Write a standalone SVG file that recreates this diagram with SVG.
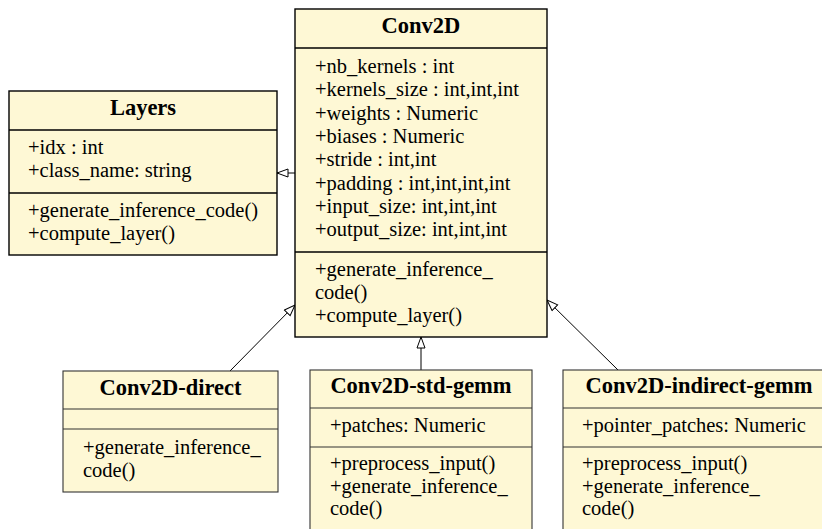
<svg xmlns="http://www.w3.org/2000/svg" width="822" height="529" viewBox="0 0 822 529">
<defs>
<marker id="inh" markerUnits="userSpaceOnUse" markerWidth="14" markerHeight="12" refX="12" refY="5" orient="auto">
<path d="M1,1 L12,5 L1,9 Z" fill="#fff" stroke="#000" stroke-width="1"/>
</marker>
<style>
.box{fill:#FEF8D5;stroke:#000;stroke-width:1.4}
.box2{fill:#FEF8D5;stroke:#333;stroke-width:1.1}
.div{stroke:#000;stroke-width:1.4}
.div2{stroke:#333;stroke-width:1.1}
.t{font-family:"Liberation Serif","Times New Roman",serif;font-size:20.5px;fill:#000}
.b{font-family:"Liberation Serif","Times New Roman",serif;font-size:22.5px;font-weight:bold;fill:#000;text-anchor:middle}
.c{stroke:#000;stroke-width:1;fill:none;marker-end:url(#inh)}
</style>
</defs>
<rect width="822" height="529" fill="#fff"/>
<g id="connectors">
<line class="c" x1="295" y1="173" x2="277" y2="173"/>
<line class="c" x1="230" y1="371" x2="295" y2="305"/>
<line class="c" x1="421" y1="370" x2="421" y2="337"/>
<line class="c" x1="618" y1="370" x2="547" y2="300"/>
</g>
<g id="layers">
<rect class="box" x="9" y="91" width="268" height="164"/>
<line class="div" x1="9" y1="130" x2="277" y2="130"/>
<line class="div" x1="9" y1="193" x2="277" y2="193"/>
<text class="b" x="143" y="115">Layers</text>
<text class="t" x="28" y="154">+idx : int</text>
<text class="t" x="28" y="177">+class_name: string</text>
<text class="t" x="28" y="217">+generate_inference_code()</text>
<text class="t" x="28" y="240">+compute_layer()</text>
</g>
<g id="conv2d">
<rect class="box" x="295" y="9" width="252" height="328"/>
<line class="div" x1="295" y1="48" x2="547" y2="48"/>
<line class="div" x1="295" y1="252" x2="547" y2="252"/>
<text class="b" x="421" y="33">Conv2D</text>
<text class="t" x="315" y="73">+nb_kernels : int</text>
<text class="t" x="315" y="96.3">+kernels_size : int,int,int</text>
<text class="t" x="315" y="119.6">+weights : Numeric</text>
<text class="t" x="315" y="142.9">+biases : Numeric</text>
<text class="t" x="315" y="166.2">+stride : int,int</text>
<text class="t" x="315" y="189.5">+padding : int,int,int,int</text>
<text class="t" x="315" y="212.8">+input_size: int,int,int</text>
<text class="t" x="315" y="236.1">+output_size: int,int,int</text>
<text class="t" x="315" y="276">+generate_inference_</text>
<text class="t" x="315" y="299">code()</text>
<text class="t" x="315" y="322">+compute_layer()</text>
</g>
<g id="conv2d-direct">
<rect class="box2" x="63" y="371" width="215" height="121"/>
<line class="div2" x1="63" y1="409" x2="278" y2="409"/>
<line class="div2" x1="63" y1="429" x2="278" y2="429"/>
<text class="b" x="170.5" y="395">Conv2D-direct</text>
<text class="t" x="83" y="454">+generate_inference_</text>
<text class="t" x="83" y="477">code()</text>
</g>
<g id="conv2d-std-gemm">
<rect class="box2" x="310" y="370" width="222" height="170"/>
<line class="div2" x1="310" y1="408" x2="532" y2="408"/>
<line class="div2" x1="310" y1="447" x2="532" y2="447"/>
<text class="b" x="421" y="393">Conv2D-std-gemm</text>
<text class="t" x="330" y="432">+patches: Numeric</text>
<text class="t" x="330" y="470">+preprocess_input()</text>
<text class="t" x="330" y="492.5">+generate_inference_</text>
<text class="t" x="330" y="515">code()</text>
</g>
<g id="conv2d-indirect-gemm">
<rect class="box2" x="563" y="370" width="272" height="170"/>
<line class="div2" x1="563" y1="408" x2="835" y2="408"/>
<line class="div2" x1="563" y1="447" x2="835" y2="447"/>
<text class="b" x="699" y="393">Conv2D-indirect-gemm</text>
<text class="t" x="582" y="432">+pointer_patches: Numeric</text>
<text class="t" x="582" y="470">+preprocess_input()</text>
<text class="t" x="582" y="492.5">+generate_inference_</text>
<text class="t" x="582" y="515">code()</text>
</g>
</svg>
